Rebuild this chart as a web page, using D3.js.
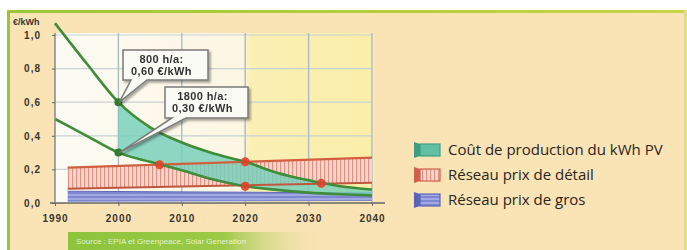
<!DOCTYPE html>
<html lang="fr">
  <head>
    <meta charset="UTF-8" />
    <title>Coût de production du kWh PV</title>
    <script src="https://cdn.jsdelivr.net/npm/d3@7/dist/d3.min.js"></script>
    <style>
      body { margin: 0; background: #fff; }
      svg { display: block; }
    </style>
  </head>
  <body>
    <div id='app'></div>
    <script>
  // data
  const years = [1990, 2000, 2010, 2020, 2030, 2040]
  const yTicks = [0, 0.2, 0.4, 0.6, 0.8, 1.0]

  const pvYears = [1990, 1995, 2000, 2005, 2010, 2015, 2020, 2025, 2030, 2035, 2040]
  const pv800 = [1.07, 0.83, 0.60, 0.45, 0.36, 0.295, 0.245, 0.18, 0.135, 0.10, 0.08]   // 800 h/a
  const pv1800 = [0.50, 0.40, 0.30, 0.245, 0.195, 0.14, 0.10, 0.078, 0.062, 0.052, 0.045] // 1800 h/a

  const bandYears = [1992, 2040]
  const retailLow = [0.085, 0.12]
  const retailHigh = [0.21, 0.27]
  const grossLow = [0.008, 0.012]
  const grossHigh = [0.07, 0.06]

  const crossYears = [2006.5, 2020, 2032]
  const crossValues = [0.228, 0.245, 0.117]
  const crossLower = [2020]
  const crossLowerValues = [0.10]

  const callouts = [['800 h/a:', '0,60 €/kWh'], ['1800 h/a:', '0,30 €/kWh']]
  const calloutValues = [0.60, 0.30]

  const legendLabels = ['Coût de production du kWh PV', 'Réseau prix de détail', 'Réseau prix de gros']
  const unitLabel = '€/kWh'
  const sourceLabel = 'Source : EPIA et Greenpeace, Solar Generation'

  const W = 687, H = 250
  const svg = d3.select('#app').append('svg').attr('width', W).attr('height', H)
  const defs = svg.append('defs')

  const x = d3.scaleLinear().domain([1990, 2040]).range([55, 372])
  const y = d3.scaleLinear().domain([0, 1]).range([203, 35])

  // gradients + patterns
  const topGrad = defs.append('linearGradient').attr('id', 'topGrad')
  topGrad.append('stop').attr('offset', 0).attr('stop-color', '#9cc63a')
  topGrad.append('stop').attr('offset', 1).attr('stop-color', '#c9d44a')

  const plotGrad = defs.append('linearGradient').attr('id', 'plotGrad')
  plotGrad.append('stop').attr('offset', 0).attr('stop-color', '#fdfbf4')
  plotGrad.append('stop').attr('offset', 0.59).attr('stop-color', '#fcf6e2')
  plotGrad.append('stop').attr('offset', 0.61).attr('stop-color', '#fbf0b4')
  plotGrad.append('stop').attr('offset', 1).attr('stop-color', '#fbeeaa')

  const bannerGrad = defs.append('linearGradient').attr('id', 'bannerGrad')
  bannerGrad.append('stop').attr('offset', 0).attr('stop-color', '#8cc43a')
  bannerGrad.append('stop').attr('offset', 0.6).attr('stop-color', '#9cca46')
  bannerGrad.append('stop').attr('offset', 1).attr('stop-color', '#fae3b4').attr('stop-opacity', 0)

  const redPat = defs.append('pattern').attr('id', 'redPat')
    .attr('patternUnits', 'userSpaceOnUse').attr('width', 4).attr('height', 4)
  redPat.append('rect').attr('width', 4).attr('height', 4).attr('fill', '#f6d5ca')
  redPat.append('rect').attr('width', 1.2).attr('height', 4).attr('fill', '#df9486')

  const bluePat = defs.append('pattern').attr('id', 'bluePat')
    .attr('patternUnits', 'userSpaceOnUse').attr('width', 4).attr('height', 4)
  bluePat.append('rect').attr('width', 4).attr('height', 4).attr('fill', '#7e88d0')
  bluePat.append('rect').attr('y', 2.5).attr('width', 4).attr('height', 1).attr('fill', '#c4caf0')

  const shadow = defs.append('filter').attr('id', 'shadow')
    .attr('x', '-20%').attr('y', '-20%').attr('width', '150%').attr('height', '160%')
  shadow.append('feDropShadow').attr('dx', 2).attr('dy', 2).attr('stdDeviation', 1)
    .attr('flood-color', '#000').attr('flood-opacity', 0.35)

  // panel background + borders
  svg.append('rect').attr('x', 8).attr('y', 10).attr('width', W - 8).attr('height', H - 10).attr('fill', '#fae3b4')
  svg.append('rect').attr('x', 7).attr('y', 10).attr('width', W - 7).attr('height', 3).attr('fill', 'url(#topGrad)')
  svg.append('rect').attr('x', 7).attr('y', 10).attr('width', 3).attr('height', H - 10).attr('fill', '#9cc63a')
  svg.append('rect').attr('x', W - 3).attr('y', 10).attr('width', 3).attr('height', H - 10).attr('fill', '#e4dc8a')

  // plot area
  svg.append('rect').attr('x', x(1990)).attr('y', y(1) - 2)
    .attr('width', x(2040) - x(1990) + 2).attr('height', y(0) - y(1) + 2)
    .attr('fill', 'url(#plotGrad)')

  // grid
  svg.append('g').selectAll('line').data(yTicks.filter(d => d > 0)).join('line')
    .attr('x1', x(1990)).attr('x2', x(2040))
    .attr('y1', d => y(d)).attr('y2', d => y(d))
    .attr('stroke', '#c6d2d4').attr('stroke-width', 1.2)
  svg.append('g').selectAll('line').data(years.filter(d => d > 1990)).join('line')
    .attr('x1', d => x(d)).attr('x2', d => x(d))
    .attr('y1', y(1) - 2).attr('y2', y(0))
    .attr('stroke', '#a9bcc6').attr('stroke-width', 1.4)

  // bands
  const bandData = (lo, hi) => bandYears.map((yr, i) => ({ yr, lo: lo[i], hi: hi[i] }))
  const band = d3.area().x(d => x(d.yr)).y0(d => y(d.lo)).y1(d => y(d.hi))

  svg.append('path').datum(bandData(grossLow, grossHigh)).attr('d', band)
    .attr('fill', 'url(#bluePat)')
  svg.append('path').datum(bandData(grossLow, grossHigh))
    .attr('d', d3.line().x(d => x(d.yr)).y(d => y(d.hi)))
    .attr('stroke', '#6068b8').attr('stroke-width', 1).attr('fill', 'none')

  svg.append('path').datum(bandData(retailLow, retailHigh)).attr('d', band)
    .attr('fill', 'url(#redPat)')

  // PV cost area between curves (2000 onwards)
  const pv = pvYears.map((yr, i) => ({ yr, hi: pv800[i], lo: pv1800[i] }))
  svg.append('path').datum(pv.filter(d => d.yr >= 2000))
    .attr('d', d3.area().curve(d3.curveMonotoneX).x(d => x(d.yr)).y0(d => y(d.lo)).y1(d => y(d.hi)))
    .attr('fill', '#74d0ba').attr('fill-opacity', 0.82)

  // retail band edges on top
  const edge = key => d3.line().x(d => x(d.yr)).y(d => y(d[key]))
  svg.append('path').datum(bandData(retailLow, retailHigh)).attr('d', edge('hi'))
    .attr('stroke', '#d2603e').attr('stroke-width', 2.2).attr('fill', 'none')
  svg.append('path').datum(bandData(retailLow, retailHigh)).attr('d', edge('lo'))
    .attr('stroke', '#c0563e').attr('stroke-width', 2).attr('fill', 'none')

  // curves
  ;['hi', 'lo'].forEach(k => {
    svg.append('path').datum(pv)
      .attr('d', d3.line().curve(d3.curveMonotoneX).x(d => x(d.yr)).y(d => y(d[k])))
      .attr('stroke', '#3f8c3a').attr('stroke-width', 2.6).attr('fill', 'none')
  })

  // axes
  const xAxis = svg.append('g').attr('transform', `translate(0,${y(0)})`)
    .call(d3.axisBottom(x).tickValues(years).tickFormat(d3.format('d')).tickSize(3).tickPadding(9))
  xAxis.select('.domain').attr('d', `M${x(1990) - 5},0H${x(2040) + 13}`)
    .attr('stroke', '#666').attr('stroke-width', 1.5)

  const yAxis = svg.append('g').attr('transform', `translate(${x(1990)},0)`)
    .call(d3.axisLeft(y).tickValues(yTicks).tickSize(3).tickPadding(11)
      .tickFormat(d => d3.format('.1f')(d).replace('.', ',')))
  yAxis.select('.domain').attr('d', `M0,${y(1) - 2}V${y(0)}`)
    .attr('stroke', '#888').attr('stroke-width', 1.5)

  svg.selectAll('.tick line').attr('stroke', '#666')
  svg.selectAll('.tick text')
    .attr('fill', '#3a3530').attr('font-family', 'Liberation Sans, Arial, sans-serif')
    .attr('font-size', 10).attr('font-weight', 'bold').attr('letter-spacing', 1)

  svg.append('text').attr('x', 13).attr('y', 25).text(unitLabel)
    .attr('fill', '#3a3530').attr('font-family', 'Liberation Sans, Arial, sans-serif')
    .attr('font-size', 9).attr('font-weight', 'bold')

  // intersection dots
  svg.append('g').selectAll('circle').data(crossYears.map((yr, i) => [yr, crossValues[i]])
      .concat(crossLower.map((yr, i) => [yr, crossLowerValues[i]]))).join('circle')
    .attr('cx', d => x(d[0])).attr('cy', d => y(d[1])).attr('r', 4.5)
    .attr('fill', '#e2402a').attr('opacity', 0.9)

  // 2000 markers
  svg.append('g').selectAll('circle').data(calloutValues).join('circle')
    .attr('cx', x(2000)).attr('cy', d => y(d)).attr('r', 4)
    .attr('fill', '#2f7a2c')

  // callout boxes
  const boxes = [
    { x: 123, y: 50, w: 85, h: 30, px0: 131, px1: 147 },
    { x: 165, y: 87, w: 83, h: 31, px0: 172, px1: 186 }
  ]
  boxes.forEach((b, i) => {
    const tipX = x(2000) + 1, tipY = y(calloutValues[i])
    const g = svg.append('g').attr('filter', 'url(#shadow)')
    g.append('path')
      .attr('d', `M${b.x},${b.y}H${b.x + b.w}V${b.y + b.h}H${b.px1}L${tipX},${tipY}L${b.px0},${b.y + b.h}H${b.x}Z`)
      .attr('fill', '#fbfbf6').attr('stroke', '#7a7a7a').attr('stroke-width', 1.5)
    g.selectAll('text').data(callouts[i]).join('text')
      .attr('x', b.x + b.w / 2 - 4).attr('y', (d, j) => b.y + 12.5 + j * 12)
      .attr('text-anchor', 'middle')
      .attr('fill', '#333').attr('font-family', 'Liberation Sans, Arial, sans-serif')
      .attr('font-size', 11).attr('font-weight', 'bold').attr('letter-spacing', 0.4)
      .text(d => d)
  })

  // legend
  const fills = ['#62c0a2', 'url(#redPat)', 'url(#bluePat)']
  const sides = ['#3f9e80', '#d0604a', '#5a66b4']
  const leg = svg.append('g').selectAll('g').data(legendLabels).join('g')
    .attr('transform', (d, i) => `translate(414,${150 + i * 25})`)
  leg.append('path').attr('d', 'M0,-8L6,-6V6L0,8Z').attr('fill', (d, i) => sides[i])
  leg.append('rect').attr('x', 6).attr('y', -6).attr('width', 20).attr('height', 12)
    .attr('fill', (d, i) => fills[i])
  leg.append('rect').attr('x', 6).attr('y', -6).attr('width', 20).attr('height', 12)
    .attr('fill', 'none').attr('stroke', (d, i) => sides[i]).attr('stroke-width', 1.2)
  leg.append('text').attr('x', 34).attr('y', 5).text(d => d)
    .attr('fill', '#2a2520').attr('font-family', 'Open Sans, sans-serif').attr('font-size', 15)

  // source banner
  svg.append('rect').attr('x', 68).attr('y', 232).attr('width', 260).attr('height', 18)
    .attr('fill', 'url(#bannerGrad)')
  svg.append('text').attr('x', 76).attr('y', 244).text(sourceLabel)
    .attr('fill', '#fff').attr('fill-opacity', 0.75)
    .attr('font-family', 'Liberation Sans, Arial, sans-serif').attr('font-size', 8)
    </script>
  </body>
</html>
